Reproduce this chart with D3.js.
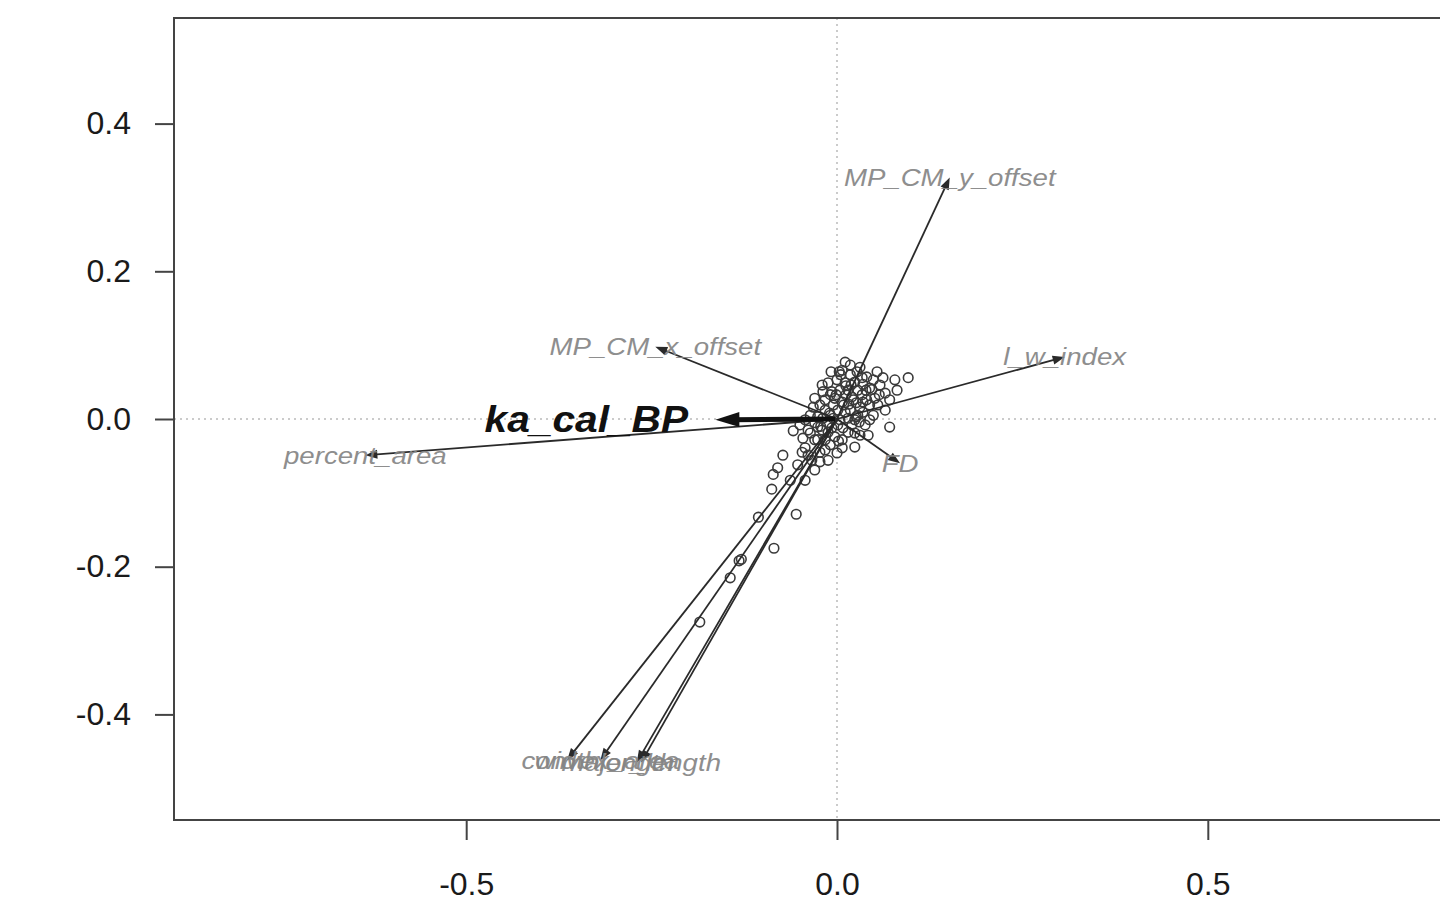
<!DOCTYPE html>
<html><head><meta charset="utf-8">
<script src="https://cdn.jsdelivr.net/npm/d3@7"></script>
<style>body{margin:0;background:#fff;overflow:hidden}svg{display:block}</style>
</head><body>
<svg id="c" width="1440" height="906"></svg>
<script>
// site scores (RDA axis 1, axis 2)
const siteX = [0.096,0.071,0.024,-0.032,-0.059,-0.046,-0.043,-0.073,-0.080,-0.086,-0.047,-0.030,-0.043,-0.088,-0.055,-0.106,-0.085,-0.129,-0.132,-0.144,-0.185,-0.009,0.000,0.007,0.018,0.007,0.031,-0.012,0.000,-0.019,-0.007,0.011,0.024,0.040,0.054,0.062,0.078,0.081,0.065,0.051,0.049,0.038,0.031,0.008,0.004,0.018,0.031,0.040,0.020,0.007,-0.005,-0.016,-0.026,-0.030,-0.013,-0.003,-0.016,-0.036,-0.023,-0.034,0.015,0.028,0.044,0.004,0.024,0.015,-0.020,-0.050,-0.009,0.011,0.034,0.055,0.065,0.018,-0.003,-0.012,-0.053,-0.063,-0.039,-0.026,0.042,0.022,0.001,-0.016,0.058,0.011,0.027,0.071,0.044,-0.007,0.012,0.026,0.035,0.005,-0.022,0.030,0.047,0.002,-0.010,0.016,
  -0.001,0.012,0.026,0.035,0.015,0.001,-0.012,-0.026,-0.043,0.007,0.020,0.028,0.039,0.049,0.034,0.003,-0.008,-0.020,-0.030,-0.023,-0.036,-0.009,0.019,0.044,0.057,0.009,-0.005,-0.019,-0.030,-0.039,-0.023,-0.016,0.024,0.035];
const siteY = [0.056,-0.011,-0.038,0.016,-0.016,-0.026,-0.039,-0.049,-0.066,-0.075,-0.045,-0.069,-0.083,-0.095,-0.129,-0.133,-0.175,-0.190,-0.192,-0.215,-0.275,-0.035,-0.046,-0.039,0.073,0.066,0.070,0.049,0.053,0.037,0.037,0.049,0.050,0.057,0.064,0.056,0.053,0.039,0.035,0.028,0.005,-0.008,-0.022,-0.012,-0.001,0.012,0.016,0.026,0.030,0.023,0.019,0.012,0.003,-0.005,-0.005,-0.024,-0.028,-0.019,-0.045,-0.056,0.039,0.039,0.042,0.039,-0.001,-0.018,-0.015,-0.008,0.005,0.009,0.033,0.019,0.012,0.060,0.028,-0.056,-0.062,-0.083,-0.015,-0.028,-0.022,0.026,0.012,0.026,0.046,0.077,0.064,0.026,-0.001,-0.012,0.045,0.003,0.047,0.060,-0.010,-0.004,0.040,-0.030,0.008,0.020,
  0.033,0.033,0.022,0.009,0.001,-0.008,-0.018,-0.011,-0.001,-0.028,-0.008,0.005,0.039,0.053,0.056,0.064,0.064,0.046,0.028,0.019,0.005,0.033,0.046,0.019,0.033,0.019,0.001,0.001,-0.028,-0.049,-0.058,-0.042,-0.019,0.023];

// species (response variable) arrows
const varNames = ["MP_CM_y_offset","MP_CM_x_offset","l_w_index","FD","percent_area","width","convex_area","length","major_length"];
const varX = [0.152,-0.245,0.307,0.085,-0.636,-0.364,-0.319,-0.270,-0.264];
const varY = [0.327,0.098,0.084,-0.060,-0.049,-0.462,-0.462,-0.465,-0.465];

// environmental (constraining) arrow
const envName = ["ka_cal_BP"];
const envX = [-0.164];
const envY = [-0.001];
const envLabelX = [-0.338];
const envLabelY = [0.001];

const xTicks = [-0.5, 0.0, 0.5];
const yTicks = [0.4, 0.2, 0.0, -0.2, -0.4];

const svg = d3.select("#c");
const L = 174, T = 18, B = 820, R = 1500;
const x = d3.scaleLinear().domain([-0.894, 0.894]).range([L, R]);
const y = d3.scaleLinear().domain([-0.543, 0.543]).range([B, T]);

// zero lines
svg.append("line").attr("x1", x(0)).attr("x2", x(0)).attr("y1", T).attr("y2", B)
  .attr("stroke", "#bbb").attr("stroke-width", 1.5).attr("stroke-dasharray", "2,4");
svg.append("line").attr("x1", L).attr("x2", R).attr("y1", y(0)).attr("y2", y(0))
  .attr("stroke", "#bbb").attr("stroke-width", 1.5).attr("stroke-dasharray", "2,4");

// axes
const fmt = d => d3.format(".1f")(d).replace("−", "-");
const ax = svg.append("g").attr("transform", `translate(0,${B})`)
  .call(d3.axisBottom(x).tickValues(xTicks).tickSize(20).tickPadding(32).tickFormat(fmt));
const ay = svg.append("g").attr("transform", `translate(${L},0)`)
  .call(d3.axisLeft(y).tickValues(yTicks).tickSize(19).tickPadding(24).tickFormat(fmt));
[ax, ay].forEach(g => {
  g.select(".domain").remove();
  g.selectAll(".tick line").attr("stroke", "#444").attr("stroke-width", 2);
  g.selectAll(".tick text").attr("fill", "#1a1a1a").style("font-family", "Liberation Sans, Arial, sans-serif").style("font-size", "32px");
});

// points
const sites = siteX.map((v, i) => [v, siteY[i]]);
svg.append("g").selectAll("circle").data(sites).join("circle")
  .attr("cx", d => x(d[0])).attr("cy", d => y(d[1])).attr("r", 4.8)
  .attr("fill", "none").attr("stroke", "#3a3a3a").attr("stroke-width", 1.6);

// arrows
function arrow(g, x1, y1, x2, y2, w, len, half, col) {
  const ang = Math.atan2(y2 - y1, x2 - x1);
  const bx = x2 - len * Math.cos(ang), by = y2 - len * Math.sin(ang);
  g.append("line").attr("x1", x1).attr("y1", y1).attr("x2", bx + (len*0.3)*Math.cos(ang)).attr("y2", by + (len*0.3)*Math.sin(ang))
    .attr("stroke", col).attr("stroke-width", w);
  const px = -Math.sin(ang), py = Math.cos(ang);
  g.append("path").attr("d", `M${x2},${y2}L${bx + half*px},${by + half*py}L${bx - half*px},${by - half*py}Z`)
    .attr("fill", col);
}
const ga = svg.append("g");
varNames.forEach((n, i) => arrow(ga, x(0), y(0), x(varX[i]), y(varY[i]), 1.8, 12, 4.5, "#2a2a2a"));
envName.forEach((n, i) => arrow(ga, x(0) - 2, y(0), x(envX[i]), y(envY[i]), 5, 24, 7.5, "#111"));

// labels
const gl = svg.append("g").style("font-family", "Liberation Sans, Arial, sans-serif");
varNames.forEach((n, i) => {
  gl.append("text").attr("transform", `translate(${x(varX[i])},${y(varY[i])}) scale(1.15,1)`)
    .attr("text-anchor", "middle").attr("dy", "0.35em")
    .style("font-size", "24px").style("font-style", "italic").attr("fill", "#858585").attr("opacity", 0.92)
    .text(n);
});
envName.forEach((n, i) => {
  gl.append("text").attr("transform", `translate(${x(envLabelX[i])},${y(envLabelY[i])}) scale(1.1,1)`)
    .attr("text-anchor", "middle").attr("dy", "0.36em")
    .style("font-size", "37px").style("font-style", "italic").style("font-weight", "bold").attr("fill", "#111")
    .text(n);
});

// plot box
svg.append("rect").attr("x", L).attr("y", T).attr("width", R - L).attr("height", B - T)
  .attr("fill", "none").attr("stroke", "#444").attr("stroke-width", 2);
</script>
</body></html>
